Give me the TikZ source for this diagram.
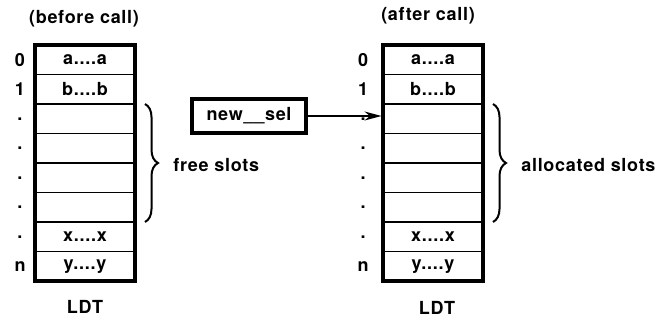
\documentclass[tikz,border=0pt]{standalone}
\usepackage{fontspec}
\setmainfont{TeX Gyre Heros}[LetterSpace=4]
\usetikzlibrary{positioning,arrows.meta,decorations.pathreplacing}
\newcommand\dotrun{....}

\begin{document}
\begin{tikzpicture}
    [x=1pt,y=1pt,font=\fontsize{18}{21}\selectfont\bfseries,
     slot/.style={draw,line width=1.6pt,minimum width=100pt,minimum height=29.5pt,
       inner sep=0pt,outer sep=0pt},
     frame/.style={line width=3.5pt},
     curly/.style={decorate,decoration={brace,amplitude=13pt},line width=2pt}]
  \useasboundingbox (0,0) rectangle (658,321);
  \foreach \side/\cx/\lx in {before/85/20,after/433/363} {
    \foreach \t/\k [count=\i from 0] in {a\dotrun a/0,b\dotrun b/1,/.,/.,/.,/.,x\dotrun x/.,y\dotrun y/n} {
      \node[slot] (\side\i) at (\cx,{276-29.5*(\i+0.5)}) {\t};
      \node (\side idx\i) at (\lx,{276-29.5*(\i+0.5)}) {\k};
    }
    \draw[frame] (\side0.north west) rectangle (\side7.south east);
  }
  \node (beforetitle) at (84,302) {(before call)};
  \node (aftertitle) at (428,305) {(after call)};
  \node (beforeldt) at (85,14) {LDT};
  \node (afterldt) at (437,13) {LDT};
  \draw[curly] ([xshift=10pt]before1.south east) -- ([xshift=10pt]before5.south east)
    node[midway,right=24pt,yshift=-2pt] (free) {free slots};
  \draw[curly] ([xshift=10pt]after1.south east) -- ([xshift=10pt]after5.south east)
    node[midway,right=24pt,yshift=-2pt] (alloc) {allocated slots};
  \node[draw,line width=3.5pt,minimum width=114pt,minimum height=34pt] (newsel) at (249,205) {new\_\_sel};
  \draw[-{Stealth[length=17pt,width=9pt]},line width=1.6pt,shorten >=1.5pt]
    (newsel.east) -- (newsel.east -| after2.west);
\end{tikzpicture}
\end{document}
